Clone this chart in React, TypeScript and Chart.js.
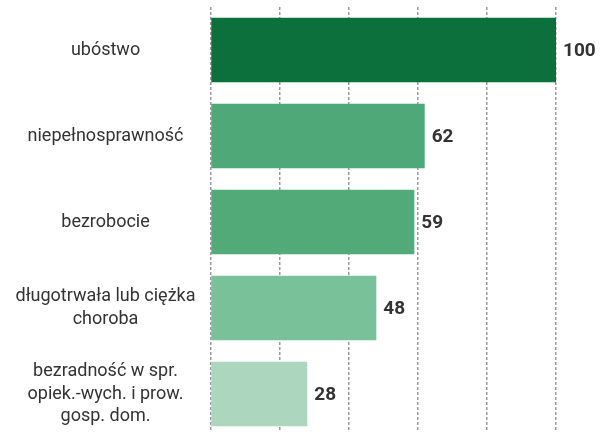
import React, { useEffect, useRef } from "react";
import { Chart, registerables } from "chart.js";

Chart.register(...registerables);

const categories: string[][] = [
  ["ubóstwo"],
  ["niepełnosprawność"],
  ["bezrobocie"],
  ["długotrwała lub ciężka", "choroba"],
  ["bezradność w spr.", "opiek.-wych. i prow.", "gosp. dom."],
];
const values: number[] = [100, 62, 59, 48, 28];
const barColors: string[] = ["#0b703b", "#4ea877", "#52aa79", "#79c199", "#acd6be"];

const valueLabels = {
  id: "valueLabels",
  afterDatasetsDraw(chart: any) {
    const ctx = chart.ctx;
    const meta = chart.getDatasetMeta(0);
    ctx.save();
    ctx.font = "bold 19px Roboto";
    ctx.fillStyle = "#333333";
    ctx.textAlign = "left";
    ctx.textBaseline = "middle";
    meta.data.forEach((bar: any, i: number) => {
      ctx.fillText(String(values[i]), bar.x + 7, bar.y + 1);
    });
    ctx.restore();
  },
};

export default function App() {
  const ref = useRef<HTMLCanvasElement | null>(null);
  useEffect(() => {
    if (!ref.current) return;
    const chart = new Chart(ref.current, {
      type: "bar",
      data: {
        labels: categories,
        datasets: [
          {
            data: values,
            backgroundColor: barColors,
            borderWidth: 0,
            barPercentage: 0.75,
            categoryPercentage: 1,
          },
        ],
      },
      options: {
        indexAxis: "y",
        responsive: false,
        animation: false,
        maintainAspectRatio: false,
        layout: { padding: { top: 7, bottom: 3, right: 54, left: 0 } },
        plugins: { legend: { display: false }, tooltip: { enabled: false } },
        scales: {
          x: {
            min: 0,
            max: 100,
            ticks: { display: false, stepSize: 20 },
            grid: { color: "#9a9a9a", lineWidth: 1.5, drawTicks: false },
            border: { display: false, dash: [3, 2] },
            afterFit: (scale: any) => {
              scale.height = 0;
              scale.paddingLeft = 0;
              scale.paddingRight = 0;
            },
          },
          y: {
            grid: { display: false, drawTicks: false },
            border: { display: false },
            ticks: {
              crossAlign: "center",
              padding: 15,
              color: "#333333",
              font: { family: "Roboto", size: 18, lineHeight: 1.25 },
            },
            afterFit: (scale: any) => {
              scale.width = 210.5;
              scale.paddingTop = 0;
              scale.paddingBottom = 0;
            },
          },
        },
      },
      plugins: [valueLabels],
    });
    return () => chart.destroy();
  }, []);
  return (
    <div
      style={{
        position: "absolute",
        left: 0,
        top: 0,
        width: 610,
        height: 432,
        overflow: "hidden",
        background: "#ffffff",
      }}
    >
      <canvas ref={ref} width={610} height={440} style={{ display: "block" }} />
    </div>
  );
}
